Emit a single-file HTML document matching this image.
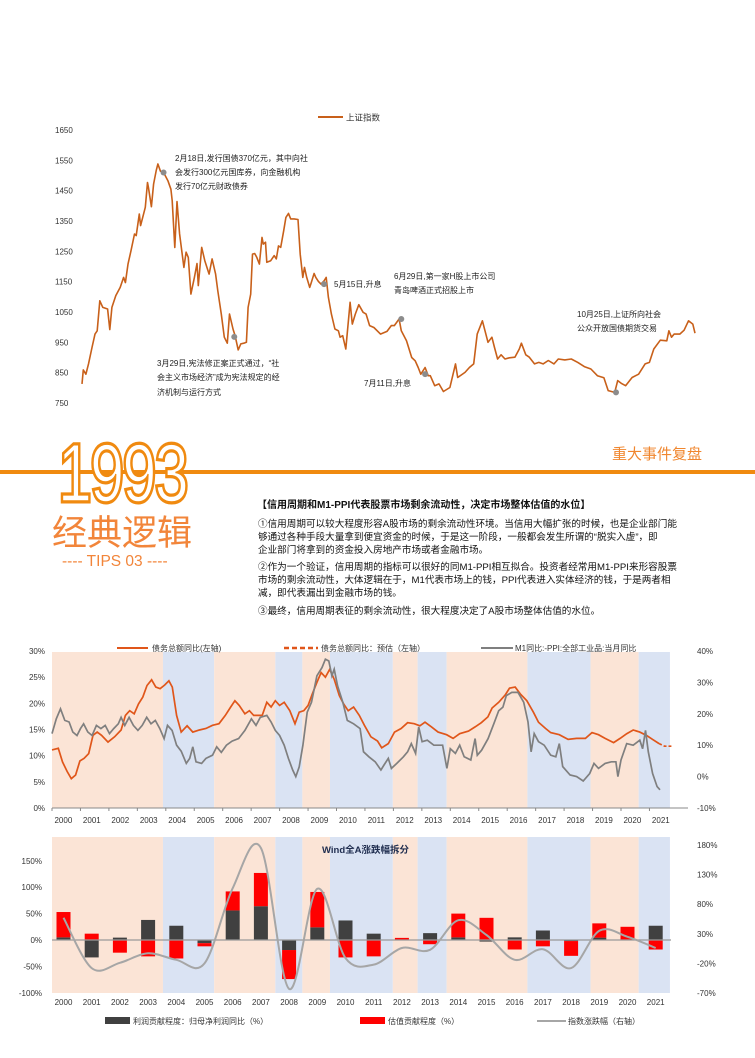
<!DOCTYPE html>
<html><head><meta charset="utf-8">
<style>
html,body{margin:0;padding:0;background:#fff;}
body{width:755px;height:1058px;position:relative;overflow:hidden;font-family:"Liberation Sans","Noto Sans CJK SC",sans-serif;}
svg{position:absolute;left:0;top:0;}
text{font-family:"Liberation Sans","Noto Sans CJK SC",sans-serif;}
</style></head>
<body>
<svg id="s" width="755" height="1058" viewBox="0 0 755 1058">
  <g id="top">
    <line x1="318" y1="117" x2="343" y2="117" stroke="#c8601a" stroke-width="2"/>
    <text x="346" y="120.5" font-size="8.5" fill="#333">上证指数</text>
    <g id="topAxis"></g>
    <path id="topLine" fill="none" stroke="#c8601a" stroke-width="1.6" stroke-linejoin="round"/>
    <g id="topDots"></g>
    <g font-size="8" fill="#222">
      <text x="175" y="161">2月18日,发行国债370亿元，其中向社</text>
      <text x="175" y="175">会发行300亿元国库券，向金融机构</text>
      <text x="175" y="189">发行70亿元财政债券</text>
      <text x="157" y="366">3月29日,宪法修正案正式通过，“社</text>
      <text x="157" y="380">会主义市场经济”成为宪法规定的经</text>
      <text x="157" y="395">济机制与运行方式</text>
      <text x="334" y="287">5月15日,升息</text>
      <text x="394" y="279">6月29日,第一家H股上市公司</text>
      <text x="394" y="293">青岛啤酒正式招股上市</text>
      <text x="364" y="386">7月11日,升息</text>
      <text x="577" y="317">10月25日,上证所向社会</text>
      <text x="577" y="331">公众开放国债期货交易</text>
    </g>
  </g>

  <g>
    <rect x="0" y="470" width="755" height="4" fill="#f08a10"/>
    <text x="0" y="0" transform="translate(58,501) scale(0.74,1)" font-size="82" fill="#fff" stroke="#f08a10" stroke-width="5" paint-order="stroke" letter-spacing="-2">1993</text>
    <text x="0" y="0" transform="translate(58,501) scale(0.74,1)" font-size="82" fill="#fff" stroke="#f08a10" stroke-width="1.5" letter-spacing="-2">1993</text>
    <text x="52" y="545" font-size="35" fill="#f2853a">经典逻辑</text>
    <text x="62" y="566" font-size="15.5" fill="#f2853a">---- TIPS 03 ----</text>
    <text x="612" y="459" font-size="15" fill="#f0862e">重大事件复盘</text>
  </g>
  <g font-size="9.6" fill="#111">
    <text x="257" y="508" font-weight="bold" font-size="10">【信用周期和M1-PPI代表股票市场剩余流动性，决定市场整体估值的水位】</text>
    <text x="258" y="527">①信用周期可以较大程度形容A股市场的剩余流动性环境。当信用大幅扩张的时候，也是企业部门能</text>
    <text x="258" y="540">够通过各种手段大量拿到便宜资金的时候，于是这一阶段，一般都会发生所谓的“脱实入虚”，即</text>
    <text x="258" y="553">企业部门将拿到的资金投入房地产市场或者金融市场。</text>
    <text x="258" y="570">②作为一个验证，信用周期的指标可以很好的同M1-PPI相互拟合。投资者经常用M1-PPI来形容股票</text>
    <text x="258" y="583">市场的剩余流动性，大体逻辑在于，M1代表市场上的钱，PPI代表进入实体经济的钱，于是两者相</text>
    <text x="258" y="596">减，即代表漏出到金融市场的钱。</text>
    <text x="258" y="614">③最终，信用周期表征的剩余流动性，很大程度决定了A股市场整体估值的水位。</text>
  </g>

  <g id="mid">
    <g id="midBands"></g>
    <g id="midAxes"></g>
    <path id="midDebt" fill="none" stroke="#e0561a" stroke-width="1.7"/>
    <path id="midDebtEst" fill="none" stroke="#e0561a" stroke-width="1.7" stroke-dasharray="3,2"/>
    <path id="midM1" fill="none" stroke="#7f7f7f" stroke-width="1.7"/>
    <g font-size="8" fill="#333">
      <line x1="117" y1="648" x2="148" y2="648" stroke="#e0561a" stroke-width="2"/>
      <text x="152" y="651">债务总额同比(左轴)</text>
      <line x1="284" y1="648" x2="318" y2="648" stroke="#e0561a" stroke-width="2.5" stroke-dasharray="5,3"/>
      <text x="321" y="651">债务总额同比：预估（左轴）</text>
      <line x1="481" y1="648" x2="513" y2="648" stroke="#7f7f7f" stroke-width="2"/>
      <text x="515" y="651">M1同比:-PPI:全部工业品:当月同比</text>
    </g>
  </g>

  <g id="bot">
    <g id="botBands"></g>
    <g id="botAxes"></g>
    <g id="botBars"></g>
    <path id="botLine" fill="none" stroke="#a6a6a6" stroke-width="2"/>
    <text x="322" y="853" font-size="9.5" font-weight="bold" fill="#1f2d4f">Wind全A涨跌幅拆分</text>
    <g font-size="8" fill="#333">
      <rect x="105" y="1017" width="25" height="7" fill="#404040"/>
      <text x="133" y="1024">利润贡献程度：归母净利润同比（%）</text>
      <rect x="360" y="1017" width="25" height="7" fill="#ff0000"/>
      <text x="388" y="1024">估值贡献程度（%）</text>
      <line x1="537" y1="1021" x2="566" y2="1021" stroke="#a6a6a6" stroke-width="2"/>
      <text x="568" y="1024">指数涨跌幅（右轴）</text>
    </g>
  </g>
</svg>
<script>
// ===== Top chart data =====
const szDays = [0,3,9,15,23,30,35,41,48,59,64,69,78,88,96,100,106,113,121,125,132,135,140,146,151,153,160,165,171,175,181,188,198,205,208,214,219,225,235,240,245,251,259,265,268,276,283,293,300,308,313,321,328,335,340,348,353,360,366,373,379,383,389,393,398,403,409,415,418,423,426,435,443,448,453,458,465,470,476,481,489,498,503,509,513,518,525,528,535,539,545,551,558,563,568,575,583,591,595,601,608,618,623,630,638,648,655,663,673,688,703,713,720,731,736,748,760,768,775,781,791,798,803,813,823,833,848,861,866,883,893,903,911,923,936,945,951,958,966,975,985,998,1008,1013,1023,1031,1043,1053,1063,1075,1088,1098,1113,1128,1143,1158,1173,1188,1203,1213,1228,1235,1243,1253,1268,1283,1298,1308,1318,1333,1348,1353,1359,1365,1378,1388,1398,1408,1413,1420];
const szValues = [813,859,845,879,933,977,988,1087,1065,1060,992,1065,1104,1131,1164,1147,1208,1252,1307,1302,1373,1335,1362,1395,1477,1461,1397,1472,1516,1538,1514,1510,1483,1455,1417,1263,1414,1307,1197,1247,1230,1109,1164,1210,1137,1263,1219,1175,1225,1175,1120,1043,967,947,1043,994,972,925,945,947,950,1065,1109,1241,1243,1230,1208,1296,1274,1280,1214,1219,1236,1225,1268,1263,1318,1362,1375,1357,1357,1355,1241,1164,1197,1164,1131,1144,1177,1164,1151,1142,1153,1164,1098,1043,994,988,967,972,928,1082,1010,1043,1074,1049,1043,1005,999,977,986,1005,1005,1027,988,955,900,889,867,845,867,840,840,807,813,788,801,879,834,851,867,879,977,1021,950,967,933,895,909,895,899,901,928,947,909,901,879,884,879,890,879,895,892,895,884,870,862,840,833,791,785,824,815,807,834,845,879,884,928,957,955,988,967,977,977,990,1021,1010,980];
const szTicks = [750,850,950,1050,1150,1250,1350,1450,1550,1650];
const szEventDays = [188,351,558,736,791,1231];
const szEventValues = [1510,968,1142,1027,845,785];

// ===== Middle chart data =====
const yearLabels = ["2000","2001","2002","2003","2004","2005","2006","2007","2008","2009","2010","2011","2012","2013","2014","2015","2016","2017","2018","2019","2020","2021"];
const bandStarts = [2000.0,2003.9,2005.7,2007.85,2008.8,2009.77,2011.98,2012.85,2013.87,2016.71,2018.93,2020.62];
const bandEnds   = [2003.9,2005.7,2007.85,2008.8,2009.77,2011.98,2012.85,2013.87,2016.71,2018.93,2020.62,2021.72];
const bandKinds  = ["peach","blue","peach","blue","peach","blue","peach","blue","peach","blue","peach","blue"];
const debtTimes = [2000.0,2000.22,2000.37,2000.53,2000.68,2000.83,2000.98,2001.13,2001.29,2001.44,2001.59,2001.74,2001.97,2002.2,2002.43,2002.58,2002.73,2002.89,2003.04,2003.19,2003.34,2003.5,2003.65,2003.8,2003.96,2004.11,2004.23,2004.38,2004.54,2004.75,2004.95,2005.18,2005.41,2005.64,2005.87,2006.09,2006.28,2006.43,2006.58,2006.78,2006.94,2007.09,2007.39,2007.55,2007.7,2007.85,2008.0,2008.16,2008.36,2008.54,2008.69,2008.85,2009.0,2009.15,2009.31,2009.46,2009.61,2009.76,2009.92,2010.1,2010.25,2010.41,2010.6,2010.8,2010.98,2011.21,2011.44,2011.59,2011.82,2012.04,2012.27,2012.5,2012.73,2012.93,2013.11,2013.34,2013.57,2013.87,2014.1,2014.33,2014.64,2014.87,2015.09,2015.32,2015.47,2015.7,2015.93,2016.08,2016.28,2016.46,2016.69,2016.92,2017.1,2017.35,2017.53,2017.83,2018.14,2018.44,2018.75,2018.98,2019.21,2019.44,2019.74,2019.97,2020.2,2020.43,2020.66,2020.89,2021.11,2021.34];
const debtValues = [11.1,11.4,8.8,7.0,5.6,6.3,9.0,9.5,10.4,13.9,14.5,13.9,12.6,13.6,14.9,17.7,18.6,18.0,19.9,21.2,23.4,24.5,23.1,22.8,23.5,24.3,23.1,17.7,14.5,15.7,14.5,14.9,15.2,15.8,16.1,17.7,19.3,20.5,19.6,18.0,18.6,17.7,17.7,20.2,19.3,20.5,19.6,20.2,18.6,16.1,18.3,18.6,19.6,21.8,24.0,25.9,25.0,26.5,24.6,21.5,19.9,18.6,19.3,17.7,15.8,13.6,12.8,11.5,12.3,14.5,15.2,16.3,16.1,15.7,16.4,15.5,14.5,14.0,13.3,14.2,14.7,15.5,16.3,17.4,19.1,20.2,21.6,22.9,23.1,21.8,20.5,18.3,16.4,15.2,14.4,14.0,13.1,13.3,13.3,14.4,14.0,13.3,12.5,13.3,14.2,14.9,14.5,13.9,13.1,12.3];
const debtEstTimes = [2021.34,2021.53,2021.77];
const debtEstValues = [12.3,11.8,11.8];
const m1Times = [2000.0,2000.15,2000.3,2000.45,2000.6,2000.73,2000.88,2001.0,2001.11,2001.26,2001.41,2001.56,2001.72,2001.87,2002.02,2002.17,2002.33,2002.43,2002.56,2002.71,2002.86,2003.02,2003.17,2003.33,2003.48,2003.63,2003.79,2003.94,2004.06,2004.22,2004.38,2004.54,2004.72,2004.84,2004.95,2005.06,2005.26,2005.41,2005.64,2005.79,2005.95,2006.13,2006.33,2006.56,2006.78,2007.01,2007.17,2007.32,2007.55,2007.7,2007.85,2008.0,2008.16,2008.31,2008.46,2008.57,2008.69,2008.82,2008.97,2009.12,2009.31,2009.49,2009.61,2009.73,2009.84,2009.92,2010.04,2010.22,2010.38,2010.6,2010.83,2010.95,2011.14,2011.36,2011.56,2011.67,2011.82,2011.93,2012.12,2012.35,2012.5,2012.63,2012.78,2012.89,2013.01,2013.19,2013.42,2013.73,2013.88,2014.0,2014.18,2014.33,2014.49,2014.72,2014.87,2014.95,2015.1,2015.33,2015.53,2015.7,2015.85,2015.97,2016.16,2016.38,2016.58,2016.73,2016.84,2016.95,2017.1,2017.3,2017.53,2017.71,2017.83,2017.95,2018.21,2018.44,2018.67,2018.9,2019.05,2019.21,2019.44,2019.66,2019.82,2019.89,2020.0,2020.2,2020.43,2020.66,2020.76,2020.86,2020.96,2021.11,2021.27,2021.37];
const m1Values = [13.7,18.4,21.6,17.9,17.4,14.2,13.1,15.3,16.8,14.2,13.1,16.3,15.3,16.3,13.7,15.3,16.8,18.9,16.3,18.9,16.3,14.7,16.3,18.9,16.8,17.9,15.3,12.1,16.3,14.7,10.0,8.1,4.2,5.8,9.5,4.7,4.2,5.8,6.8,9.5,7.7,10.0,11.3,12.1,14.7,18.4,16.3,18.9,19.5,17.4,14.7,13.1,10.0,5.8,2.1,0.0,3.1,10.0,20.5,23.7,32.1,34.7,37.4,36.8,32.1,34.2,28.9,23.7,17.9,16.8,15.3,7.9,6.3,4.7,2.1,3.7,5.8,2.6,4.2,6.3,7.9,10.5,7.4,15.8,11.1,11.6,10.0,10.0,2.6,8.9,7.4,10.0,6.3,5.3,12.1,6.8,8.4,12.1,16.8,21.0,22.1,25.8,26.8,26.8,23.7,17.4,7.9,13.7,11.1,10.0,6.8,6.3,10.5,3.2,0.5,0.0,-1.4,1.0,4.2,2.6,4.2,4.7,4.7,0.0,5.3,10.5,10.0,11.6,8.9,14.7,7.9,1.0,-3.2,-4.2];
const leftTicks = [0,5,10,15,20,25,30];
const rightTicks = [-10,0,10,20,30,40];

// ===== Bottom chart data =====
const profitValues = [5,-33,4.5,38,27,-6,56,64,-19,24,37,12,0,13,5,-3,5,18,-2,4.5,1,27];
const valuationValues = [48,12,-24,-31,-35,-6,36,63,-55,67,-33,-31,4,-8,45,42,-18,-12,-28,27,24,-18];
const indexChangeValues = [57,-28,-19,-3,-14,-20,107,175,-63,106,-11,-22,6,3,53,28,-14,4,-28,35,25,6];
const botLeftTicks = [-100,-50,0,50,100,150];
const botRightTicks = [-70,-20,30,80,130,180];

const NS = "http://www.w3.org/2000/svg";
function mk(tag, attrs, parent){const e=document.createElementNS(NS,tag);for(const k in attrs)e.setAttribute(k,attrs[k]);parent.appendChild(e);return e;}
function linePath(xs, ys){
  const n = Math.min(xs.length, ys.length);
  let d = "";
  for(let i=0;i<n;i++){
    if(!isFinite(xs[i])||!isFinite(ys[i])) continue;
    d += (d?"L":"M")+xs[i].toFixed(1)+","+ys[i].toFixed(1);
  }
  return d;
}

// ---- Top chart ----
const tX = d => 82 + d*(698-82)/1420;
const tY = v => 130 + (1650-v)*(403-130)/900;
const gTopAxis = document.getElementById("topAxis");
szTicks.forEach(v=>{
  const t = mk("text",{x:55,y:tY(v)+3,"font-size":"8",fill:"#333"},gTopAxis);
  
  
  t.textContent = v;
});
document.getElementById("topLine").setAttribute("d", linePath(szDays.map(tX), szValues.map(tY)));
const gTopDots = document.getElementById("topDots");
szEventDays.forEach((d,i)=>{
  const c = mk("circle",{cx:tX(d),cy:tY(szEventValues[i]),r:3,fill:"#8c8c8c"},gTopDots);
  
  
});

// ---- Middle chart ----
const mX = t => 52 + (t-2000)*28.45;
const mYL = v => 808 - v*(808-651)/30;
const mYR = v => 808 - (v+10)*(808-651)/50;
const bandColor = {peach:"#fbe4d6", blue:"#dae3f3"};
const gMidBands = document.getElementById("midBands");
bandStarts.forEach((s,i)=>{
  const r = mk("rect",{x:mX(s),y:652,width:mX(bandEnds[i])-mX(s),height:156,fill:bandColor[bandKinds[i]]},gMidBands);
  
  
});
const gMidAxes = document.getElementById("midAxes");
const mxl = mk("line",{x1:52,y1:808,x2:688,y2:808,stroke:"#888","stroke-width":1},gMidAxes);


leftTicks.forEach(v=>{
  const t = mk("text",{x:45,y:mYL(v)+3,"font-size":"8","text-anchor":"end",fill:"#333"},gMidAxes);
  
  
  t.textContent = v+"%";
});
rightTicks.forEach(v=>{
  const t = mk("text",{x:697,y:mYR(v)+3,"font-size":"8",fill:"#333"},gMidAxes);
  
  
  t.textContent = v+"%";
});
yearLabels.forEach((y,i)=>{
  const tk = mk("line",{x1:mX(2000+i),y1:808,x2:mX(2000+i),y2:811,stroke:"#888"},gMidAxes);
  
  
  const t = mk("text",{x:mX(2000.4+i),y:823,"font-size":"8","text-anchor":"middle",fill:"#333"},gMidAxes);
  
  
  t.textContent = y;
});
document.getElementById("midDebt").setAttribute("d", linePath(debtTimes.map(mX), debtValues.map(mYL)));
document.getElementById("midDebtEst").setAttribute("d", linePath(debtEstTimes.map(mX), debtEstValues.map(mYL)));
document.getElementById("midM1").setAttribute("d", linePath(m1Times.map(mX), m1Values.map(mYR)));

// ---- Bottom chart ----
const bYL = v => 940 - v*(26.4/50);
const bYR = v => 845 + (180-v)*(148/250);
const bCx = i => 63.5 + i*28.2;
const gBotBands = document.getElementById("botBands");
bandStarts.forEach((s,i)=>{
  const r = mk("rect",{x:mX(s),y:837,width:mX(bandEnds[i])-mX(s),height:156,fill:bandColor[bandKinds[i]]},gBotBands);
  
  
});
const gBotAxes = document.getElementById("botAxes");
botLeftTicks.forEach(v=>{
  const t = mk("text",{x:42,y:bYL(v)+3,"font-size":"8","text-anchor":"end",fill:"#333"},gBotAxes);
  
  
  t.textContent = v+"%";
});
botRightTicks.forEach(v=>{
  const t = mk("text",{x:697,y:bYR(v)+3,"font-size":"8",fill:"#333"},gBotAxes);
  
  
  t.textContent = v+"%";
});
yearLabels.forEach((y,i)=>{
  const t = mk("text",{x:bCx(i),y:1005,"font-size":"8","text-anchor":"middle",fill:"#333"},gBotAxes);
  
  
  t.textContent = y;
});
const gBotBars = document.getElementById("botBars");
profitValues.forEach((p,i)=>{
  const v = valuationValues[i] || 0;
  const x = bCx(i)-7;
  const pr = mk("rect",{x:x,y:Math.min(bYL(0),bYL(p)),width:14,height:Math.abs(bYL(p)-bYL(0)),fill:"#404040"},gBotBars);
  
  
  const base = (p*v>0)?p:0;
  const vr = mk("rect",{x:x,y:Math.min(bYL(base),bYL(base+v)),width:14,height:Math.abs(bYL(base+v)-bYL(base)),fill:"#ff0000"},gBotBars);
  
  
});
const zl = mk("line",{x1:52,y1:bYL(0),x2:671,y2:bYL(0),stroke:"#999","stroke-width":1.2},gBotBars);


(function(){
  const px = indexChangeValues.map((v,i)=>bCx(i)), py = indexChangeValues.map(bYR);
  let d = "M"+px[0].toFixed(1)+","+py[0].toFixed(1);
  for(let i=0;i<px.length-1;i++){
    const a=Math.max(i-1,0), b=Math.min(i+2,px.length-1);
    d += "C"+(px[i]+(px[i+1]-px[a])/6).toFixed(1)+","+(py[i]+(py[i+1]-py[a])/6).toFixed(1)+" "+(px[i+1]-(px[b]-px[i])/6).toFixed(1)+","+(py[i+1]-(py[b]-py[i])/6).toFixed(1)+" "+px[i+1].toFixed(1)+","+py[i+1].toFixed(1);
  }
  document.getElementById("botLine").setAttribute("d", d);
})();
</script>
</body></html>
